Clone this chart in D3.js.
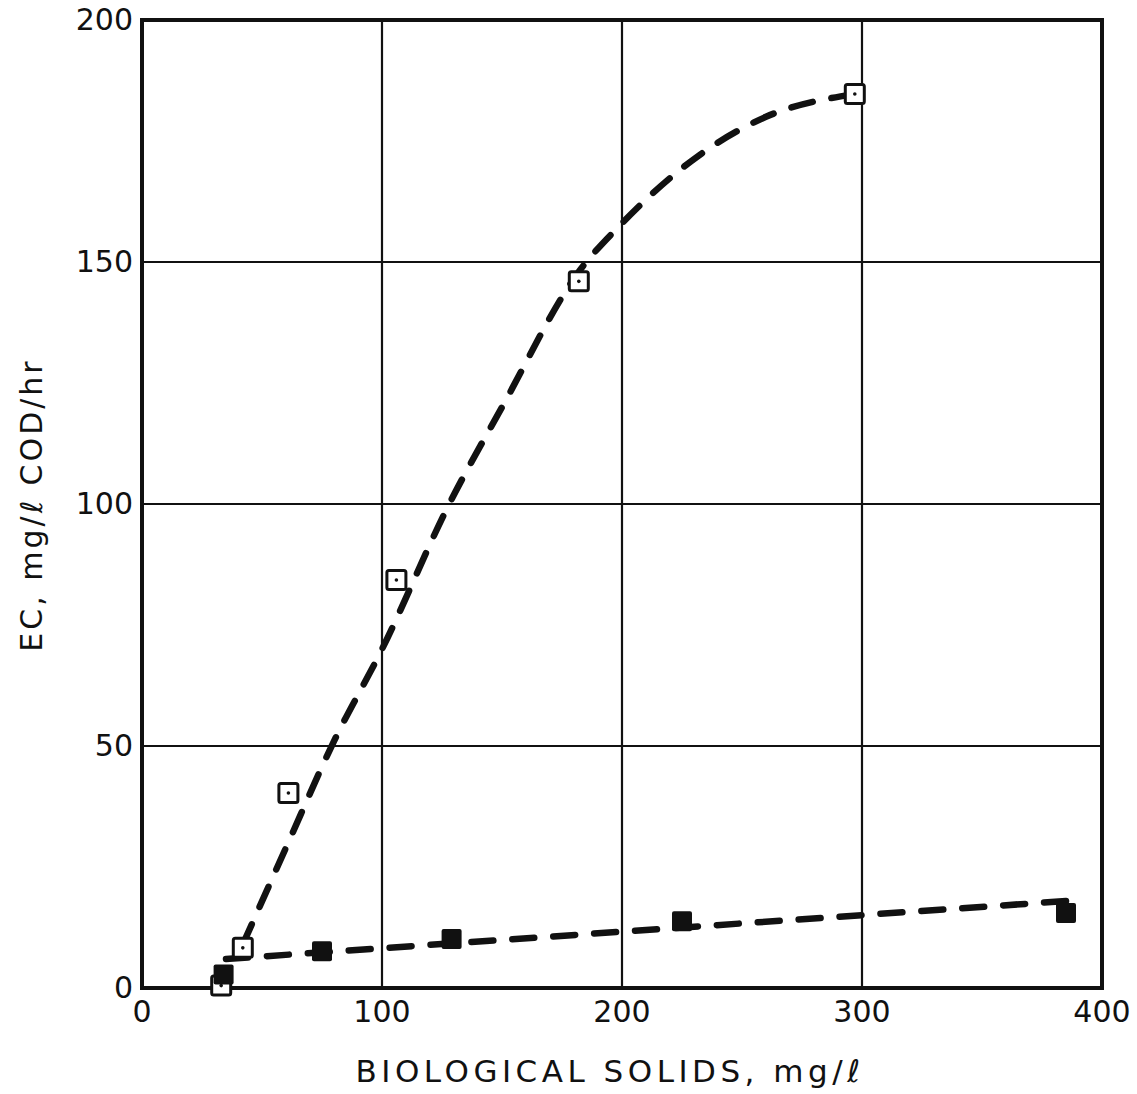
<!DOCTYPE html>
<html>
<head>
<meta charset="utf-8">
<script src="https://cdn.jsdelivr.net/npm/d3@7"></script>
<style>
  body { margin: 0; background: #fff; }
  svg text { font-family: "DejaVu Sans", sans-serif; fill: #111; }
</style>
</head>
<body>
<svg id="chart" width="1137" height="1094"></svg>
<script>
// open squares (upper curve)
const openX = [33, 42, 61, 106, 182, 297];
const openY = [0.5, 8.3, 40.3, 84.3, 146, 184.7];
// filled squares (lower line)
const fillX = [34, 75, 129, 225, 385];
const fillY = [2.8, 7.6, 10.1, 13.8, 15.5];
// fitted dashed curves
const upperCurveX = [42, 60, 80, 100, 128, 150, 182, 200, 232, 260, 297];
const upperCurveY = [9, 29, 51, 70, 100, 120, 148, 158, 172, 180, 184.7];
const lowerCurveX = [35, 392];
const lowerCurveY = [6, 18.2];

const xTicks = [0, 100, 200, 300, 400];
const yTicks = [0, 50, 100, 150, 200];

const svg = d3.select('#chart');
const x = d3.scaleLinear().domain([0, 400]).range([142, 1102]);
const y = d3.scaleLinear().domain([0, 200]).range([988, 20]);

// grid
const grid = svg.append('g').attr('stroke', '#111').attr('stroke-width', 2.2);
xTicks.slice(1, -1).forEach(t => {
  grid.append('line').attr('x1', x(t)).attr('x2', x(t)).attr('y1', y(200)).attr('y2', y(0));
});
yTicks.slice(1, -1).forEach(t => {
  grid.append('line').attr('x1', x(0)).attr('x2', x(400)).attr('y1', y(t)).attr('y2', y(t));
});

// frame
svg.append('rect')
  .attr('x', x(0)).attr('y', y(200))
  .attr('width', x(400) - x(0)).attr('height', y(0) - y(200))
  .attr('fill', 'none').attr('stroke', '#111').attr('stroke-width', 4);

// tick labels
svg.append('g').selectAll('text').data(xTicks).join('text')
  .attr('x', d => x(d)).attr('y', 1022)
  .attr('text-anchor', 'middle')
  .attr('font-size', 30)
  .text(d => d);

svg.append('g').selectAll('text').data(yTicks).join('text')
  .attr('x', 133).attr('y', d => y(d) + 10)
  .attr('text-anchor', 'end')
  .attr('font-size', 30)
  .text(d => d);

// axis titles
svg.append('text')
  .attr('x', 610).attr('y', 1082)
  .attr('text-anchor', 'middle')
  .attr('font-size', 31)
  .attr('letter-spacing', 4.5)
  .text('BIOLOGICAL SOLIDS, mg/ℓ');

svg.append('text')
  .attr('transform', 'translate(42,505) rotate(-90)')
  .attr('text-anchor', 'middle')
  .attr('font-size', 30)
  .attr('letter-spacing', 3)
  .text('EC, mg/ℓ COD/hr');

// dashed curves
const line = d3.line().x(d => x(d[0])).y(d => y(d[1])).curve(d3.curveMonotoneX);
const dashStyle = sel => sel.attr('fill', 'none').attr('stroke', '#111')
  .attr('stroke-width', 6.5).attr('stroke-linecap', 'round')
  .attr('stroke-dasharray', '22 19');

svg.append('path')
  .datum(upperCurveX.map((v, i) => [v, upperCurveY[i]]))
  .attr('d', line).call(dashStyle);

svg.append('path')
  .datum(lowerCurveX.map((v, i) => [v, lowerCurveY[i]]))
  .attr('d', line).call(dashStyle);

// markers
const s = 19;
const openPts = openX.map((v, i) => [v, openY[i]]);
svg.append('g').selectAll('rect').data(openPts).join('rect')
  .attr('x', d => x(d[0]) - s / 2).attr('y', d => y(d[1]) - s / 2)
  .attr('width', s).attr('height', s).attr('rx', 2)
  .attr('fill', '#fff').attr('stroke', '#111').attr('stroke-width', 3);
svg.append('g').selectAll('circle').data(openPts).join('circle')
  .attr('cx', d => x(d[0])).attr('cy', d => y(d[1])).attr('r', 1.8)
  .attr('fill', '#111');

const fillPts = fillX.map((v, i) => [v, fillY[i]]);
svg.append('g').selectAll('rect').data(fillPts).join('rect')
  .attr('x', d => x(d[0]) - 10).attr('y', d => y(d[1]) - 10)
  .attr('width', 20).attr('height', 20).attr('rx', 2)
  .attr('fill', '#111');
</script>
</body>
</html>
